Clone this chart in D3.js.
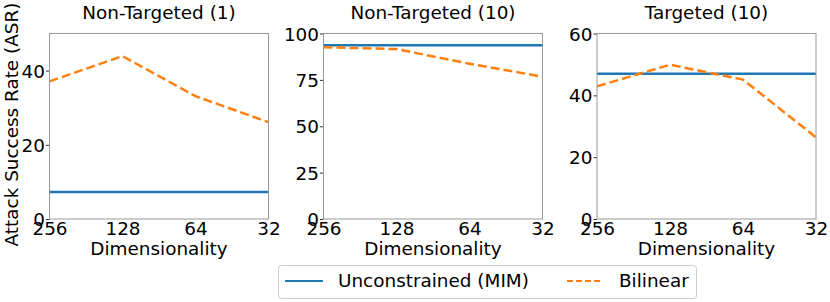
<!DOCTYPE html>
<html>
<head>
<meta charset="utf-8">
<script src="https://cdn.jsdelivr.net/npm/d3@7"></script>
<style>
  body { margin: 0; background: #fff; }
  text { font-family: "DejaVu Sans", sans-serif; fill: #000; }
</style>
</head>
<body>
<div id="chart"></div>
<script>
(function () {
    // data
    var dims = [256, 128, 64, 32];
    var titles = ["Non-Targeted (1)", "Non-Targeted (10)", "Targeted (10)"];
    var mimValues = [7.3, 93.7, 47.0];
    var bilinearValues = [
        [37.1, 43.9, 33.1, 26.1],
        [92.6, 91.6, 83.7, 76.7],
        [42.9, 49.9, 45.1, 26.4]
    ];
    var yMax = [50, 100, 60];
    var yTicks = [[0, 20, 40], [0, 25, 50, 75, 100], [0, 20, 40, 60]];
    var seriesNames = ["Unconstrained (MIM)", "Bilinear"];

    var width = 830, height = 302;
    var fs = "18.4px";
    var panelLeft = [49.5, 323.5, 597];
    var panelW = 219;
    var top = 33.5, bottom = 219;

    var svg = d3.select("#chart")
        .append("svg")
        .attr("width", width)
        .attr("height", height);

    titles.forEach(function (t, i) {
        var x = d3.scaleLog().base(2)
            .domain([256, 32])
            .range([panelLeft[i], panelLeft[i] + panelW]);
        var y = d3.scaleLinear()
            .domain([0, yMax[i]])
            .range([bottom, top]);

        var g = svg.append("g");

        g.append("text")
            .attr("x", panelLeft[i] + panelW / 2)
            .attr("y", 18.5)
            .attr("text-anchor", "middle")
            .style("font-size", fs)
            .text(t);

        // y axis
        var ya = g.append("g")
            .attr("transform", "translate(" + panelLeft[i] + ",0)")
            .call(d3.axisLeft(y).tickValues(yTicks[i]).tickSize(3.5).tickPadding(1));
        ya.select(".domain").remove();
        ya.selectAll("line").attr("stroke", "#000").attr("stroke-width", 0.8);
        ya.selectAll("text").style("font-size", fs).attr("dy", "0.36em");

        // x axis
        var xa = g.append("g")
            .attr("transform", "translate(0," + bottom + ")")
            .call(d3.axisBottom(x).tickValues(dims).tickFormat(d3.format("d")).tickSize(0).tickPadding(3));
        xa.select(".domain").remove();
        xa.selectAll("text").style("font-size", fs);

        g.append("text")
            .attr("x", panelLeft[i] + panelW / 2)
            .attr("y", 255)
            .attr("text-anchor", "middle")
            .style("font-size", fs)
            .text("Dimensionality");

        var line = d3.line()
            .x(function (d, k) { return x(dims[k]); })
            .y(function (d) { return y(d); });

        g.append("path")
            .datum(dims.map(function () { return mimValues[i]; }))
            .attr("d", line)
            .attr("fill", "none")
            .attr("stroke", "#1f77b4")
            .attr("stroke-width", 2.5);

        g.append("path")
            .datum(bilinearValues[i])
            .attr("d", line)
            .attr("fill", "none")
            .attr("stroke", "#ff7f0e")
            .attr("stroke-width", 2.5)
            .attr("stroke-dasharray", "9,4");

        g.append("rect")
            .attr("x", panelLeft[i])
            .attr("y", top)
            .attr("width", panelW)
            .attr("height", bottom - top)
            .attr("fill", "none")
            .attr("stroke", "#999999")
            .attr("stroke-width", 1);
    });

    svg.append("text")
        .attr("transform", "translate(18,124.5) rotate(-90)")
        .attr("text-anchor", "middle")
        .style("font-size", fs)
        .text("Attack Success Rate (ASR)");

    // legend
    var lg = svg.append("g");
    lg.append("rect")
        .attr("x", 278.5).attr("y", 265.5)
        .attr("width", 418).attr("height", 33)
        .attr("rx", 3)
        .attr("fill", "#fff")
        .attr("stroke", "#cccccc");
    var legendX = [[285, 323, 338], [567, 603, 619]];
    seriesNames.forEach(function (name, k) {
        lg.append("line")
            .attr("x1", legendX[k][0]).attr("x2", legendX[k][1])
            .attr("y1", 281).attr("y2", 281)
            .attr("stroke", k === 0 ? "#1f77b4" : "#ff7f0e")
            .attr("stroke-width", 2)
            .attr("stroke-dasharray", k === 0 ? null : "6,3");
        lg.append("text")
            .attr("x", legendX[k][2])
            .attr("y", 287)
            .style("font-size", fs)
            .text(name);
    });
}());
</script>
</body>
</html>
